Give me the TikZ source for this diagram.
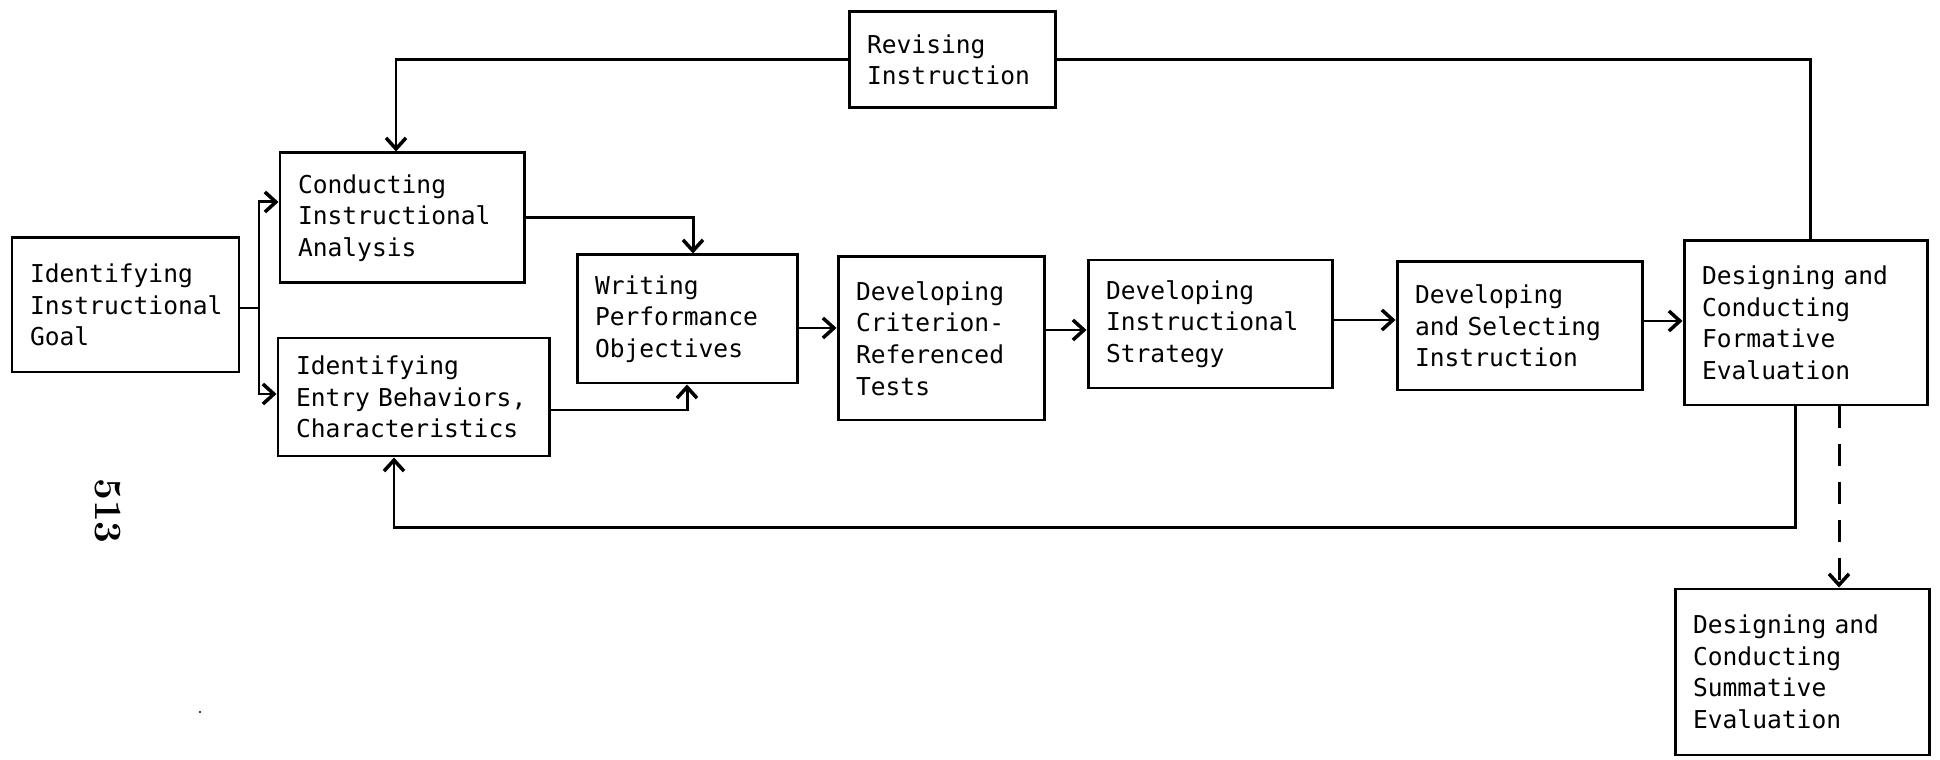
\documentclass[tikz,border=0pt]{standalone}
\usepackage{fontspec}
\newfontfamily\typewfont[WordSpace=1.5]{DejaVu Sans Mono}
\usetikzlibrary{arrows.meta}

\begin{document}
\begin{tikzpicture}[>={Straight Barb[length=1.1mm,width=2mm,line width=1pt]}, line width=0.85pt]
\tikzset{stage/.style = {draw, align=left, inner xsep=0.18cm, inner ysep=0pt, font=\typewfont\fontsize{7}{9}\selectfont}}

	\useasboundingbox (0,0) rectangle (19.4,-7.6);

	\node[stage, text width=1.91cm, minimum height=1.34cm] (goal) at (1.255,-3.05) {Identifying\\Instructional\\Goal};
	\node[stage, text width=2.08cm, minimum height=1.30cm] (analysis) at (4.02,-2.18) {Conducting\\Instructional\\Analysis};
	\node[stage, text width=2.35cm, minimum height=1.18cm] (entry) at (4.135,-3.97) {Identifying\\Entry Behaviors,\\Characteristics};
	\node[stage, text width=1.84cm, minimum height=1.28cm] (objectives) at (6.87,-3.19) {Writing\\Performance\\Objectives};
	\node[stage, text width=1.70cm, minimum height=1.63cm] (criterion) at (9.41,-3.385) {Developing\\Criterion-\\Referenced\\Tests};
	\node[stage, text width=2.08cm, minimum height=1.28cm] (strategy) at (12.10,-3.24) {Developing\\Instructional\\Strategy};
	\node[stage, text width=2.09cm, minimum height=1.28cm] (selecting) at (15.195,-3.26) {Developing\\and Selecting\\Instruction};
	\node[stage, text width=2.07cm, minimum height=1.64cm] (formative) at (18.055,-3.23) {Designing and\\Conducting\\Formative\\Evaluation};
	\node[stage, text width=2.18cm, minimum height=1.66cm] (summative) at (18.02,-6.72) {Designing and\\Conducting\\Summative\\Evaluation};
	\node[stage, text width=1.70cm, minimum height=0.96cm] (revising) at (9.52,-0.60) {Revising\\Instruction};

	\node[font=\bfseries\fontsize{11}{13}\selectfont, rotate=-90] (page) at (1.08,-5.11) {513};
	\fill (2.0,-7.12) circle (0.012);

	\coordinate (split) at (2.59,-3.08);
	\draw (goal.east |- split) -- (split);
	\draw[->] (split) |- ([yshift=1.6mm]analysis.west);
	\draw[->] (split) |- ([yshift=0.3mm]entry.west);

	\draw[->] (analysis.east) -| ([xshift=0.6mm]objectives.north);
	\draw[->] ([yshift=-1.3mm]entry.east) -| (objectives.south);

	\draw[->] (objectives.east |- 0,-3.28) -- (criterion.west |- 0,-3.28);
	\draw[->] (criterion.east |- 0,-3.30) -- (strategy.west |- 0,-3.30);
	\draw[->] (strategy.east |- 0,-3.20) -- (selecting.west |- 0,-3.20);
	\draw[->] (selecting.east |- 0,-3.21) -- (formative.west |- 0,-3.21);

	\draw ([xshift=0.45mm]formative.north) |- (revising.east);
	\draw[->] (revising.west) -| ([xshift=-0.6mm]analysis.north);
	\draw[->] ([xshift=-1.05mm]formative.south) -- ++(0,-1.21) -| ([xshift=-1.95mm]entry.south);
	\draw[->, dashed, dash pattern=on 2.2mm off 1.6mm] ([xshift=3.35mm]formative.south) -- ([xshift=3.35mm]formative.south |- summative.north);
\end{tikzpicture}
\end{document}
